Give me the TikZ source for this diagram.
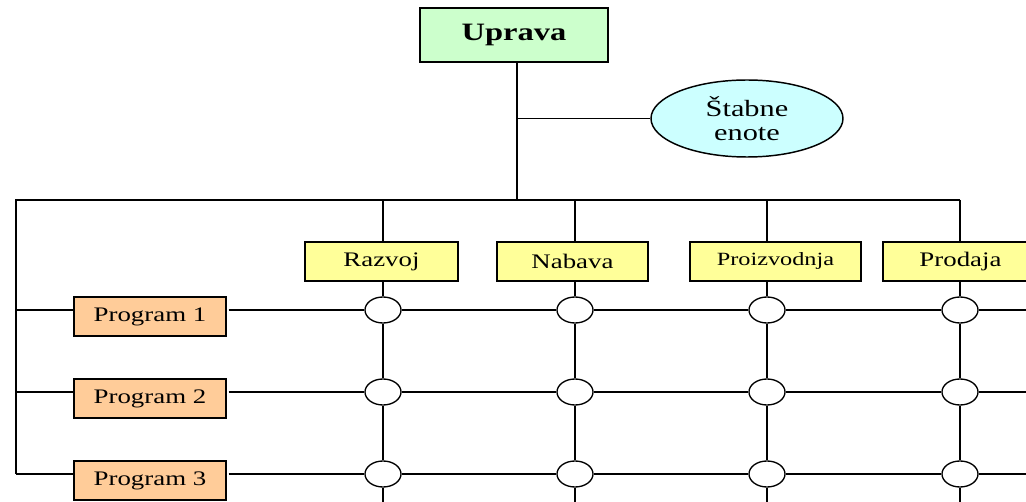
\documentclass[tikz,border=0pt]{standalone}
\usepackage{fontspec}
\setmainfont{Liberation Serif}[FakeStretch=1.3]
\usetikzlibrary{positioning,shapes.geometric,calc}

\definecolor{upravagreen}{HTML}{CCFFCC}
\definecolor{stabcyan}{HTML}{CCFFFF}
\definecolor{oddelyellow}{HTML}{FFFF99}
\definecolor{progorange}{HTML}{FFCC99}

\begin{document}
\begin{tikzpicture}[x=.75pt, y=-.75pt,
  povezava/.style={line width=1pt},
  okvir/.style={draw, line width=1.1pt, inner sep=0pt, minimum height=29.25pt},
  upravabox/.style={okvir, fill=upravagreen, minimum width=141pt, minimum height=40.5pt, font=\fontsize{18.75}{20}\selectfont\bfseries},
  oddelbox/.style={okvir, fill=oddelyellow, font=\fontsize{15.5}{17}\selectfont},
  progbox/.style={okvir, fill=progorange, minimum width=114pt, font=\fontsize{15.5}{17}\selectfont},
  stabnode/.style={draw, ellipse, line width=1.1pt, fill=stabcyan, inner sep=0pt, minimum width=144pt, minimum height=57.75pt, align=center, font=\fontsize{17.5}{17.5}\selectfont},
  vozel/.style={draw, ellipse, line width=1pt, fill=white, inner sep=0pt, minimum width=27pt, minimum height=19.5pt}]

\clip (0,0) rectangle (1026,502);

% vodstvo
\node[upravabox] (uprava) at (514,35) {Uprava};
\node[stabnode] (stab) at (747,118.5) {Štabne\\enote};

% oddelki
\node[oddelbox, minimum width=114.75pt] (razvoj) at (381.5,261.5) {Razvoj};
\node[oddelbox, minimum width=113.25pt] (nabava) at (572.5,261.5) {Nabava};
\node[oddelbox, minimum width=128.25pt, font=\fontsize{14}{16}\selectfont] (proizv) at (775.5,261.5) {Proizvodnja};
\node[oddelbox, minimum width=116.25pt] (prodaja) at (960.5,261.5) {Prodaja};

% programi in vozlisca
\foreach \i/\y in {1/310,2/392,3/474} {
  \node[progbox] (prog\i) at (150,\y+6.5) {Program \i};
  \foreach \j/\x in {1/383,2/575,3/767,4/960}
    \node[vozel] (v\i\j) at (\x,\y) {};
}

\coordinate (trunk) at (517,200);
\coordinate (busL) at (16,200);
\coordinate (busR) at (960,200);
\coordinate (dno) at (0,510);
\coordinate (desno) at (1030,0);

\draw[povezava] (trunk |- uprava.south) -- (trunk);
\draw[povezava] (trunk |- stab.west) -- (stab.west);
\draw[povezava] (busL |- v31) -- (busL) -- (busR);

% stolpci
\foreach \d [count=\j] in {razvoj,nabava,proizv,prodaja} {
  \draw[povezava] (busL -| v1\j) -- (v1\j |- \d.north);
  \draw[povezava] (v1\j |- \d.south) -- (v1\j) -- (v2\j) -- (v3\j) -- (v3\j |- dno);
}

% vrstice
\foreach \i in {1,2,3} {
  \draw[povezava] (busL |- v\i1) -- (prog\i.west |- v\i1);
  \draw[povezava] ($(prog\i.east |- v\i1)+(2,0)$) -- (v\i1) -- (v\i2) -- (v\i3) -- (v\i4) -- (desno |- v\i1);
}

\end{tikzpicture}
\end{document}
